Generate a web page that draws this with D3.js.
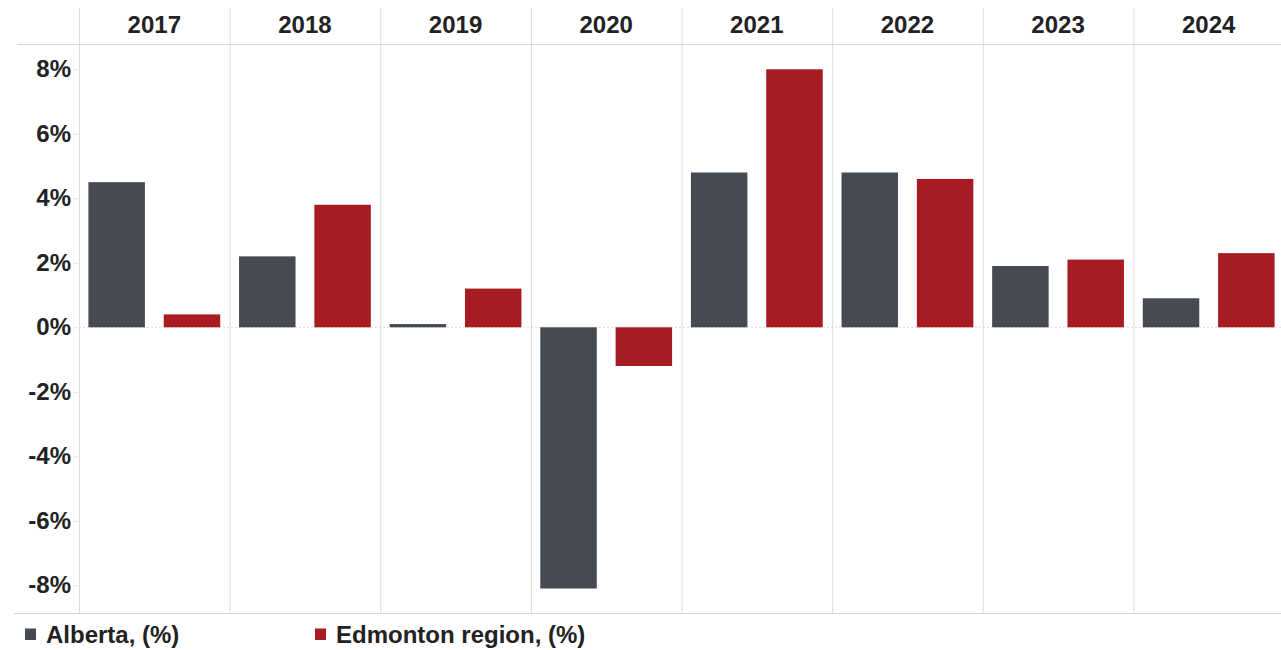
<!DOCTYPE html>
<html>
<head>
<meta charset="utf-8">
<script src="https://cdn.jsdelivr.net/npm/d3@7"></script>
<style>
  html, body { margin: 0; padding: 0; background: #fff; }
  svg text { font-family: "Liberation Sans", Arial, sans-serif; font-weight: bold; fill: #222; }
</style>
</head>
<body>
<svg id="chart" width="1281" height="650"></svg>
<script>
// Annual growth, Alberta vs Edmonton region
const years = ["2017", "2018", "2019", "2020", "2021", "2022", "2023", "2024"];
const seriesNames = ["Alberta, (%)", "Edmonton region, (%)"];
const alberta = [4.5, 2.2, 0.1, -8.1, 4.8, 4.8, 1.9, 0.9];
const edmonton = [0.4, 3.8, 1.2, -1.2, 8.0, 4.6, 2.1, 2.3];
const yTicks = [-8, -6, -4, -2, 0, 2, 4, 6, 8];
const colors = ["#464a52", "#a61c22"];

const svg = d3.select("#chart");

const left = 79, right = 1284, headerTop = 8, headerBottom = 44, bottom = 613;

const x0 = d3.scaleBand().domain(years).range([left, right]).padding(0);
const x1 = d3.scaleBand().domain(seriesNames).range([0, x0.bandwidth()])
  .paddingInner(0.25).paddingOuter(0.125);
const y = d3.scaleLinear().domain([-8, 8]).range([585.3, 69.3]);

const grid = svg.append("g");
// vertical panel dividers
grid.selectAll("line.v").data(years).join("line")
  .attr("x1", d => x0(d) + 0.5).attr("x2", d => x0(d) + 0.5)
  .attr("y1", headerTop).attr("y2", bottom)
  .attr("stroke", "#dcdcdc").attr("stroke-width", 1);
// header separator and bottom rule
grid.append("line").attr("x1", 17).attr("x2", 1281)
  .attr("y1", headerBottom + 0.5).attr("y2", headerBottom + 0.5)
  .attr("stroke", "#d6d6d6");
grid.append("line").attr("x1", 14).attr("x2", 1281)
  .attr("y1", bottom + 0.5).attr("y2", bottom + 0.5)
  .attr("stroke", "#d6d6d6");

// year headers
svg.append("g").selectAll("text").data(years).join("text")
  .attr("x", d => x0(d) + x0.bandwidth() / 2)
  .attr("y", 33)
  .attr("text-anchor", "middle")
  .attr("font-size", 24)
  .text(d => d);

// y axis
const yAxis = d3.axisLeft(y).tickValues(yTicks).tickSize(5).tickPadding(2)
  .tickFormat(d => d + "%");
const ya = svg.append("g").attr("transform", `translate(${left - 1},0)`).call(yAxis);
ya.select(".domain").remove();
ya.selectAll(".tick line").attr("stroke", "#e4e4e4");
ya.selectAll(".tick text").attr("font-size", 24).attr("fill", "#222")
  .attr("font-family", "Liberation Sans, Arial, sans-serif").attr("font-weight", "bold");

// zero line
svg.append("line").attr("x1", left).attr("x2", 1281)
  .attr("y1", y(0)).attr("y2", y(0))
  .attr("stroke", "#dddddd").attr("stroke-dasharray", "2,2");

// bars
const rows = years.map((yr, i) => ({ year: yr, values: [alberta[i], edmonton[i]] }));
const groups = svg.append("g").selectAll("g").data(rows).join("g")
  .attr("transform", d => `translate(${x0(d.year)},0)`);
groups.selectAll("rect").data(d => d.values.map((v, j) => ({ v, s: seriesNames[j], j })))
  .join("rect")
  .attr("x", d => x1(d.s))
  .attr("width", x1.bandwidth())
  .attr("y", d => y(Math.max(0, d.v)))
  .attr("height", d => Math.abs(y(d.v) - y(0)))
  .attr("fill", d => colors[d.j]);

// legend
const legendX = [25, 315];
const leg = svg.append("g").selectAll("g").data(seriesNames).join("g")
  .attr("transform", (d, i) => `translate(${legendX[i]},642.5)`);
leg.append("rect").attr("x", 0).attr("y", -14).attr("width", 11).attr("height", 11.5)
  .attr("fill", (d, i) => colors[i]);
leg.append("text").attr("x", 21).attr("y", 0)
  .attr("font-size", 24)
  .text(d => d);
</script>
</body>
</html>
